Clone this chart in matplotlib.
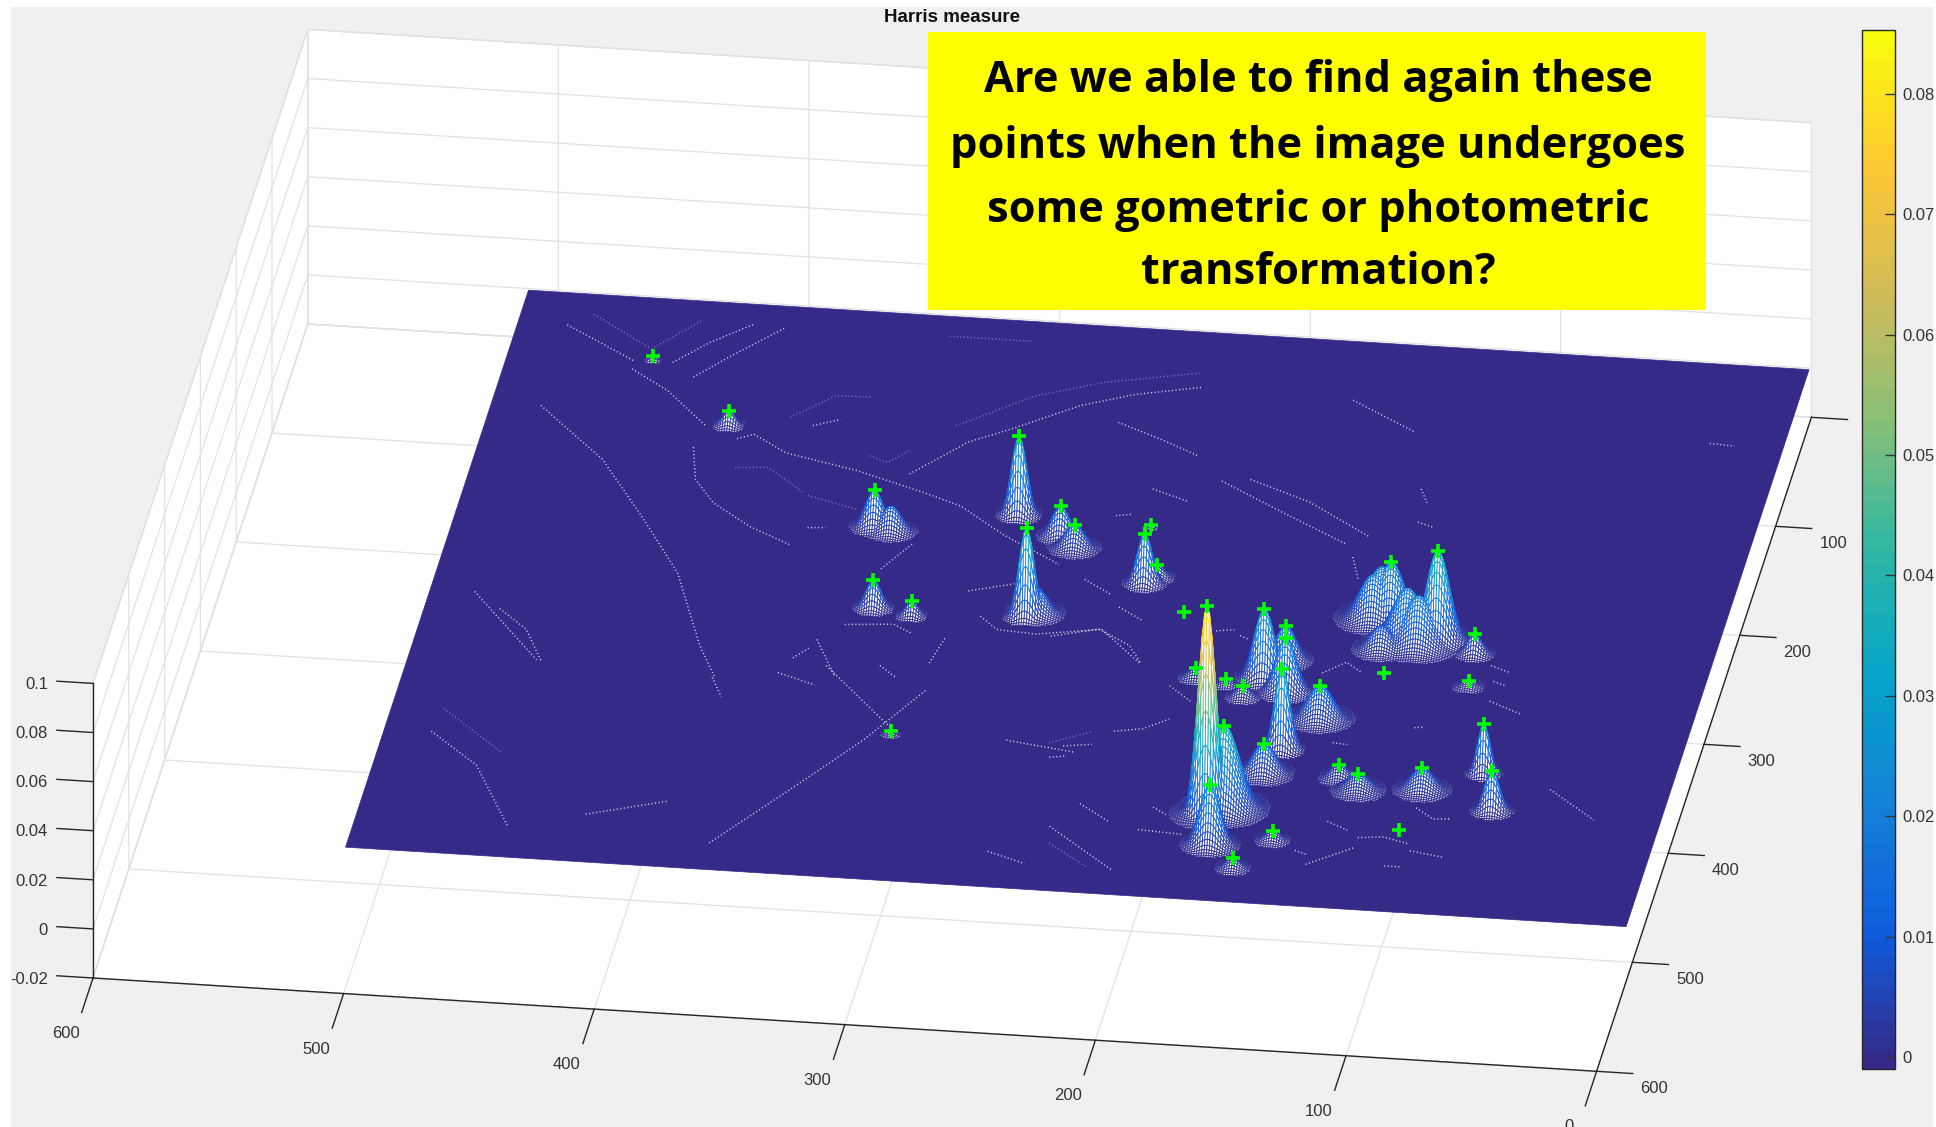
import numpy as np
import matplotlib
matplotlib.use('Agg')
import matplotlib.pyplot as plt
from matplotlib.colors import LinearSegmentedColormap, Normalize
from matplotlib.cm import ScalarMappable
from matplotlib.patches import Rectangle
from matplotlib.transforms import Affine2D
from mpl_toolkits.mplot3d.art3d import Poly3DCollection, Line3DCollection

W, H = 1936, 1127
TEXT = '#333333'
plt.rcParams['font.family'] = ['Liberation Sans', 'DejaVu Sans']

# ---- axis data
x_ticks = [0, 100, 200, 300, 400, 500, 600]
y_ticks = [0, 100, 200, 300, 400, 500, 600]
z_ticks = [-0.02, 0, 0.02, 0.04, 0.06, 0.08, 0.1]
z_labels = ['-0.02', '0', '0.02', '0.04', '0.06', '0.08', '0.1']
cbar_ticks = [0, 0.01, 0.02, 0.03, 0.04, 0.05, 0.06, 0.07, 0.08]
cbar_labels = ['0', '0.01', '0.02', '0.03', '0.04', '0.05', '0.06', '0.07', '0.08']
c_min, c_max = -0.001, 0.0853
image_size = 512

# ---- Harris peaks: position, height, width, has a + marker
peak_x = [179, 174, 168, 164, 158, 147, 188, 180, 162, 173, 174, 150, 162, 132, 123, 98, 102, 76, 68, 93,
          95, 128, 132, 111, 214, 233, 238, 229, 272, 265, 201, 454, 416, 346, 336, 320, 291, 275, 313,
          139, 123, 132, 339, 272, 179, 136, 118]
peak_y = [435, 310, 292, 320, 372, 343, 318, 328, 395, 429, 462, 455, 482, 395, 405, 401, 439, 383, 416, 306,
          276, 299, 249, 266, 255, 231, 180, 225, 193, 203, 313, 58, 112, 195, 268, 273, 176, 267, 381,
          250, 267, 277, 198, 264, 435, 247, 271]
peak_z = [.0851, .0285, .0140, .0217, .0326, .0136, .0027, .0048, .0122, .0339, .0244, .0041, .0041, .0054, .0068,
          .0088, .0004, .0204, .0163, .0027, .0081, .0005, .0231, .0367, .0005, .0204, .0011, .0054, .0122, .0095,
          .0041, .0020, .0061, .0149, .0115, .0061, .0319, .0360, .0015, .0180, .0210, .0095, .0102, .0109, .0070,
          .0200, .0200]
peak_s = [3.5, 4.0, 4.0, 4.0, 3.0, 5.0, 2.5, 3.0, 4.5, 6.0, 4.0, 3.0, 3.0, 3.5, 4.5, 4.5, 1.5, 2.5, 3.0, 3.0,
          3.0, 1.5, 5.0, 4.5, 1.5, 3.0, 2.0, 3.0, 3.5, 4.0, 3.0, 1.5, 2.5, 3.5, 3.0, 2.5, 3.0, 3.0, 2.0,
          5.5, 6.0, 4.5, 4.0, 4.5, 6.0, 6.0, 6.0]
peak_marked = [1] * 39 + [0] * 8

# ---- weak edge responses (x, y pairs)
ridges = [
    [(492, 31), (461, 60)], [(461, 67), (444, 85), (425, 114)], [(446, 59), (434, 39), (419, 20)],
    [(436, 71), (424, 50), (406, 21)],
    [(492, 105), (461, 150), (437, 202), (417, 248), (399, 312), (389, 340)],
    [(411, 124), (405, 119), (390, 134), (360, 146), (331, 162), (315, 172), (294, 196), (269, 219)],
    [(339, 146), (320, 114), (303, 98), (281, 75), (261, 62), (236, 52)],
    [(264, 88), (245, 101), (228, 114)], [(427, 134), (422, 163), (412, 183), (395, 202), (376, 217)],
    [(372, 200), (365, 199)], [(361, 318), (356, 308)], [(354, 300), (342, 333)], [(338, 233), (329, 209)],
    [(293, 270), (285, 281), (269, 283), (244, 275), (225, 303)], [(301, 248), (284, 239)],
    [(345, 285), (326, 282), (318, 289)], [(257, 231), (245, 243)], [(240, 254), (229, 265)],
    [(242, 146), (227, 155)], [(253, 172), (247, 170)], [(307, 315), (304, 291)], [(326, 320), (318, 330)],
    [(383, 108), (373, 101)], [(482, 290), (469, 307), (459, 335)],
    [(216, 135), (188, 160), (159, 185)], [(205, 132), (179, 149), (151, 177)],
    [(263, 284), (245, 275), (231, 288), (224, 304)], [(226, 366), (215, 362), (206, 352)],
    [(244, 382), (233, 379)], [(248, 393), (242, 391)], [(230, 433), (216, 448)], [(204, 453), (186, 455)],
    [(201, 432), (195, 438)], [(184, 464), (175, 471)], [(210, 322), (199, 336)], [(152, 302), (144, 291), (137, 299)],
    [(117, 448), (107, 446), (96, 451)], [(134, 475), (117, 457)], [(95, 457), (81, 461)],
    [(98, 418), (90, 427), (83, 426)], [(131, 435), (122, 442)], [(140, 463), (135, 466)], [(103, 472), (96, 472)],
    [(83, 318), (69, 328)], [(84, 300), (79, 303)], [(87, 286), (79, 291)], [(134, 161), (127, 165)],
    [(155, 196), (150, 216)], [(139, 364), (133, 365)], [(109, 346), (105, 345)], [(189, 273), (185, 276)],
    [(199, 270), (192, 268)], [(137, 131), (133, 143)], [(493, 404), (471, 432), (451, 485)],
    [(494, 276), (461, 334)], [(422, 470), (392, 454)], [(370, 489), (345, 436), (323, 388), (305, 340)],
    [(347, 323), (314, 375)], [(365, 332), (349, 341)], [(267, 380), (239, 387)], [(239, 455), (209, 491)],
    [(260, 481), (244, 490)], [(390, 340), (384, 357)], [(175, 55), (147, 80)], [(30, 74), (20, 75)],
    [(48, 394), (27, 419)],
]
faint_ridges = [
    [(483, 20), (456, 48), (440, 20)], [(327, 100), (300, 69), (275, 53), (238, 39)],
    [(408, 150), (395, 148), (378, 169)], [(376, 171), (355, 181)], [(357, 132), (349, 137), (342, 125)],
    [(341, 20), (308, 20)], [(393, 102), (378, 80), (364, 79)], [(250, 380), (235, 368)], [(237, 470), (219, 490)],
    [(491, 383), (463, 419)],
]

note_lines = ['Are we able to find again these', 'points when the image undergoes',
              'some gometric or photometric', 'transformation?']

parula_colors = ['#352a87', '#0f5cdd', '#1481d6', '#06a4ca', '#2eb7a4', '#87bf77', '#d1bb59', '#fec832', '#f9fb0e']
parula = LinearSegmentedColormap.from_list('parula', parula_colors, N=64)
norm = Normalize(c_min, c_max)

fig = plt.figure(figsize=(W / 100, H / 100), dpi=100, facecolor='white')
fig.add_artist(Rectangle((11 / W, 0), (1933 - 11) / W, (H - 7) / H, transform=fig.transFigure,
                         facecolor='#f0f0f0', edgecolor='none', zorder=-5))

ax = fig.add_axes([0, 0, 1, 1], projection='3d', computed_zorder=False)
ax.set_facecolor('none')
ax.apply_aspect = lambda position=None: None

# MATLAB's orthographic view, measured from the axis ticks of the reference
view = np.array([[-2.506, -0.358, 0.0, 93 + 2.506 * 600 + 0.358 * 600],
                 [0.1555, -1.09, 2455.0, (H - 978) - 0.1555 * 600 + 1.09 * 600 + 2455.0 * 0.02],
                 [0.1555 / 1000, -1.09 / 1000, -0.3, -1.5],
                 [0.0, 0.0, 0.0, 1.0]])


def get_proj():
    T = ax.transData.get_matrix()
    lift = np.array([[T[0, 0], T[0, 1], 0, T[0, 2]], [T[1, 0], T[1, 1], 0, T[1, 2]], [0, 0, 1, 0], [0, 0, 0, 1]])
    return np.linalg.inv(lift) @ view


ax.get_proj = get_proj


def place_labels(axis, dx, dy, ha='center'):
    original = axis.get_major_ticks

    def wrapped(numticks=None):
        ticks = original(numticks)
        for t in ticks:
            t.label1.set_transform(ax.transData + Affine2D().translate(dx, dy))
            t.label1.set_ha(ha)
        return ticks
    axis.get_major_ticks = wrapped


ax.set_xlim(0, 600)
ax.set_ylim(0, 600)
ax.set_zlim(-0.02, 0.1)
ax.set_xticks(x_ticks)
ax.set_yticks(y_ticks)
ax.set_zticks(z_ticks)
ax.set_zticklabels(z_labels)
ax.tick_params(axis='both', labelsize=12, labelcolor=TEXT, color='#262626', pad=6)
ax.tick_params(axis='z', labelsize=12, labelcolor=TEXT, color='#262626', pad=2)
for a, fin, fout in ((ax.xaxis, 0.66, 0.0), (ax.yaxis, 0.3, 0.0), (ax.zaxis, 0.0, 0.3)):
    a.set_pane_color((1, 1, 1, 1))
    a.pane.set_edgecolor('#dddddd')
    a.line.set_color('#262626')
    a.line.set_linewidth(1.0)
    a._axinfo['grid'].update(color='#e2e2e2', linewidth=0.9)
    a._axinfo['tick'].update(inward_factor=fin, outward_factor=fout, linewidth={True: 1.0, False: 0.5})
ax.zaxis.set_ticks_position('upper')
place_labels(ax.xaxis, -22, -25)
place_labels(ax.yaxis, 21, 0)
place_labels(ax.zaxis, -15, 16, ha='right')

# flat image plane
g0, g1 = 1, image_size
plane = Poly3DCollection([[(g0, g0, 0), (g1, g0, 0), (g1, g1, 0), (g0, g1, 0)]],
                         facecolors=parula_colors[0], edgecolors=parula_colors[0], linewidths=0.5, zorder=1)
ax.add_collection3d(plane, autolim=False)

# weak responses
for paths, alpha in ((ridges, 0.9), (faint_ridges, 0.4)):
    segments = [[(px, py, 0.0003) for px, py in path] for path in paths]
    ax.add_collection3d(Line3DCollection(segments, colors='#e6e6f5', linewidths=1.1, alpha=alpha,
                                         linestyles=[(0, (0.7, 1.6))], zorder=2), autolim=False)

# mesh of the peaks (white faces, coloured edges, as MATLAB's mesh)
gx, gy = np.meshgrid(np.arange(g0, g1 + 1), np.arange(g0, g1 + 1))
Z = np.zeros_like(gx, dtype=float)
for px, py, pz, ps in zip(peak_x, peak_y, peak_z, peak_s):
    Z = np.maximum(Z, pz * np.exp(-((gx - px) ** 2 + (gy - py) ** 2) / (2 * ps ** 2)))
cell_max = np.maximum.reduce([Z[:-1, :-1], Z[1:, :-1], Z[:-1, 1:], Z[1:, 1:]])
jj, ii = np.nonzero(cell_max > 0.0004)
verts = np.stack([
    np.stack([gx[jj, ii], gy[jj, ii], Z[jj, ii]], axis=1),
    np.stack([gx[jj, ii + 1], gy[jj, ii + 1], Z[jj, ii + 1]], axis=1),
    np.stack([gx[jj + 1, ii + 1], gy[jj + 1, ii + 1], Z[jj + 1, ii + 1]], axis=1),
    np.stack([gx[jj + 1, ii], gy[jj + 1, ii], Z[jj + 1, ii]], axis=1)], axis=1)
cell_mean = (Z[jj, ii] + Z[jj, ii + 1] + Z[jj + 1, ii] + Z[jj + 1, ii + 1]) / 4
mesh = Poly3DCollection(verts, facecolors='white', edgecolors=parula(norm(cell_mean)), linewidths=0.6, zorder=3)
ax.add_collection3d(mesh, autolim=False)

# detected corners
mx = [v for v, m in zip(peak_x, peak_marked) if m]
my = [v for v, m in zip(peak_y, peak_marked) if m]
mz = [v for v, m in zip(peak_z, peak_marked) if m]
ax.scatter(mx, my, mz, marker='+', c='#00ff00', s=95, linewidths=2.6, depthshade=False, zorder=4)
ax.set_xlim(0, 600)
ax.set_ylim(0, 600)
ax.set_zlim(-0.02, 0.1)

# title
fig.text(952 / W, 1 - 17 / H, 'Harris measure', ha='center', va='center', fontsize=13.5, fontweight='bold', color='#111111')

# colour bar
cax = fig.add_axes([1862 / W, 1 - 1069 / H, 33 / W, 1039 / H])
cb = fig.colorbar(ScalarMappable(norm=norm, cmap=parula), cax=cax, ticks=cbar_ticks)
cb.ax.set_yticklabels(cbar_labels)
cb.ax.tick_params(direction='in', length=7.2, width=1, color='#333333', labelsize=12, labelcolor=TEXT, pad=5)
cb.outline.set_edgecolor('#262626')
cb.outline.set_linewidth(1)

# yellow note
fig.add_artist(Rectangle((928 / W, 1 - 310 / H), (1706 - 928) / W, 278 / H, transform=fig.transFigure,
                         facecolor='#ffff00', edgecolor='none', zorder=5))
for line, yc in zip(note_lines, [81, 146, 210, 273]):
    fig.text(1318 / W, 1 - yc / H, line, ha='center', va='center', fontsize=31.2, fontweight='bold',
             family='Open Sans', color='black', zorder=6)

fig.savefig('out.png', dpi=100, facecolor='white')
